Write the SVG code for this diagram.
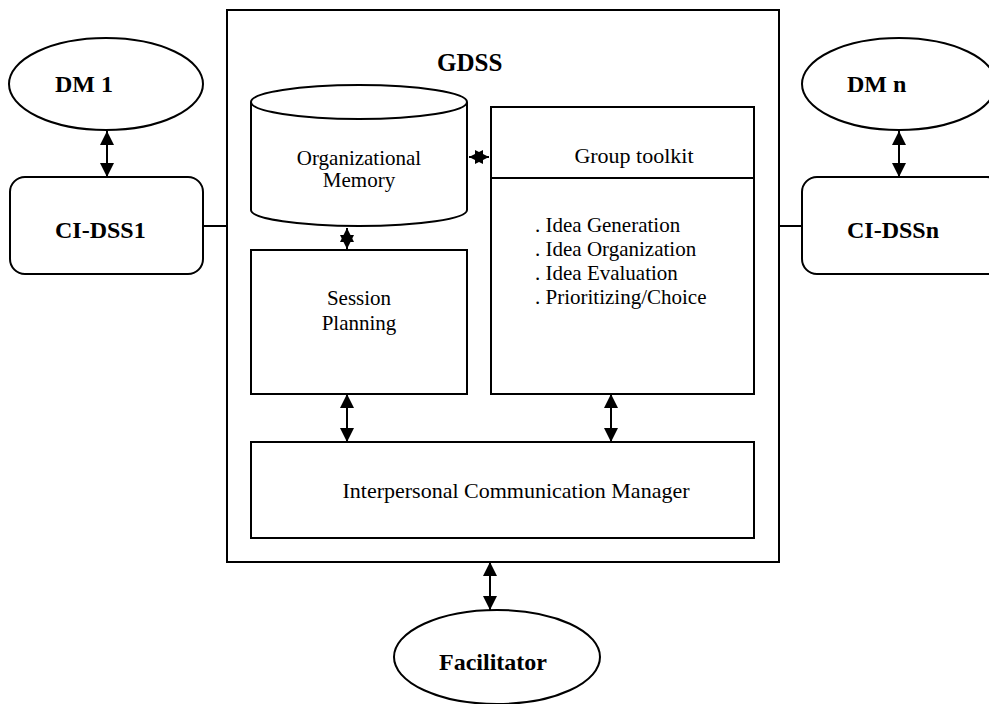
<svg xmlns="http://www.w3.org/2000/svg" width="989" height="704" viewBox="0 0 989 704">
  <style>
    .shape { fill: #fff; stroke: #000; stroke-width: 2; }
    .line { fill: none; stroke: #000; stroke-width: 2; }
    .bold { font-family: "Liberation Serif", "Times New Roman", serif; font-weight: bold; font-size: 24px; fill: #000; }
    .reg { font-family: "Liberation Serif", "Times New Roman", serif; font-size: 21px; fill: #000; }
  </style>
  <defs>
    <marker id="head" viewBox="0 0 14 14" refX="14" refY="7" markerWidth="14" markerHeight="14" markerUnits="userSpaceOnUse" orient="auto-start-reverse">
      <path d="M0,0 L14,7 L0,14 z" fill="#000"/>
    </marker>
    <!-- short overlapping heads that form a small star -->
    <marker id="small" viewBox="0 0 14 14" refX="14" refY="7" markerWidth="14" markerHeight="14" markerUnits="userSpaceOnUse" orient="auto-start-reverse">
      <path d="M0,0 L14,7 L0,14 z" fill="#000"/>
    </marker>
  </defs>

  <!-- GDSS container -->
  <g id="gdss">
    <rect class="shape" x="227" y="10" width="552" height="552"/>
    <text class="bold" x="437" y="71" style="font-size:25px">GDSS</text>
  </g>

  <g id="dm1">
    <ellipse class="shape" cx="106" cy="84" rx="97" ry="46"/>
    <text class="bold" x="55" y="92">DM 1</text>
  </g>
  <g id="cidss1">
    <rect class="shape" x="10" y="177" width="193" height="97" rx="15" ry="15"/>
    <text class="bold" x="55" y="238">CI-DSS1</text>
  </g>

  <g id="dmn">
    <ellipse class="shape" cx="899" cy="84" rx="97" ry="46"/>
    <text class="bold" x="847" y="92">DM n</text>
  </g>
  <g id="cidssn">
    <rect class="shape" x="802" y="177" width="200" height="97" rx="15" ry="15"/>
    <text class="bold" x="847" y="238">CI-DSSn</text>
  </g>

  <g id="memory">
    <path class="shape" d="M251,102 L251,210 A108,16 0 0 0 467,210 L467,102"/>
    <ellipse class="shape" cx="359" cy="102" rx="108" ry="17"/>
    <text class="reg" x="359" y="165" text-anchor="middle">Organizational</text>
    <text class="reg" x="359" y="187" text-anchor="middle">Memory</text>
  </g>

  <g id="toolkit">
    <rect class="shape" x="491" y="107" width="263" height="287"/>
    <line class="line" x1="491" y1="178" x2="754" y2="178"/>
    <text class="reg" x="634" y="163" text-anchor="middle" style="font-size:22px">Group toolkit</text>
    <text class="reg" x="535" y="232">. Idea Generation</text>
    <text class="reg" x="535" y="256">. Idea Organization</text>
    <text class="reg" x="535" y="280">. Idea Evaluation</text>
    <text class="reg" x="535" y="304">. Prioritizing/Choice</text>
  </g>

  <g id="session">
    <rect class="shape" x="251" y="250" width="216" height="144"/>
    <text class="reg" x="359" y="305" text-anchor="middle">Session</text>
    <text class="reg" x="359" y="330" text-anchor="middle">Planning</text>
  </g>

  <g id="icm">
    <rect class="shape" x="251" y="442" width="503" height="96"/>
    <text class="reg" x="516" y="498" text-anchor="middle" style="font-size:22px">Interpersonal Communication Manager</text>
  </g>

  <g id="facilitator">
    <ellipse class="shape" cx="497" cy="657" rx="103" ry="47"/>
    <text class="bold" x="439" y="670">Facilitator</text>
  </g>

  <!-- connectors -->
  <g id="connectors">
    <line class="line" x1="203" y1="226" x2="227" y2="226"/>
    <line class="line" x1="779" y1="226" x2="802" y2="226"/>
    <line class="line" x1="107" y1="131" x2="107" y2="177" marker-start="url(#head)" marker-end="url(#head)"/>
    <line class="line" x1="899" y1="131" x2="899" y2="177" marker-start="url(#head)" marker-end="url(#head)"/>
    <line class="line" x1="347" y1="394" x2="347" y2="442" marker-start="url(#head)" marker-end="url(#head)"/>
    <line class="line" x1="611" y1="394" x2="611" y2="442" marker-start="url(#head)" marker-end="url(#head)"/>
    <line class="line" x1="490" y1="562" x2="490" y2="610" marker-start="url(#head)" marker-end="url(#head)"/>
    <line class="line" x1="469" y1="157" x2="489" y2="157" marker-start="url(#small)" marker-end="url(#small)"/>
    <line class="line" x1="347" y1="228" x2="347" y2="249" marker-start="url(#small)" marker-end="url(#small)"/>
  </g>
</svg>
